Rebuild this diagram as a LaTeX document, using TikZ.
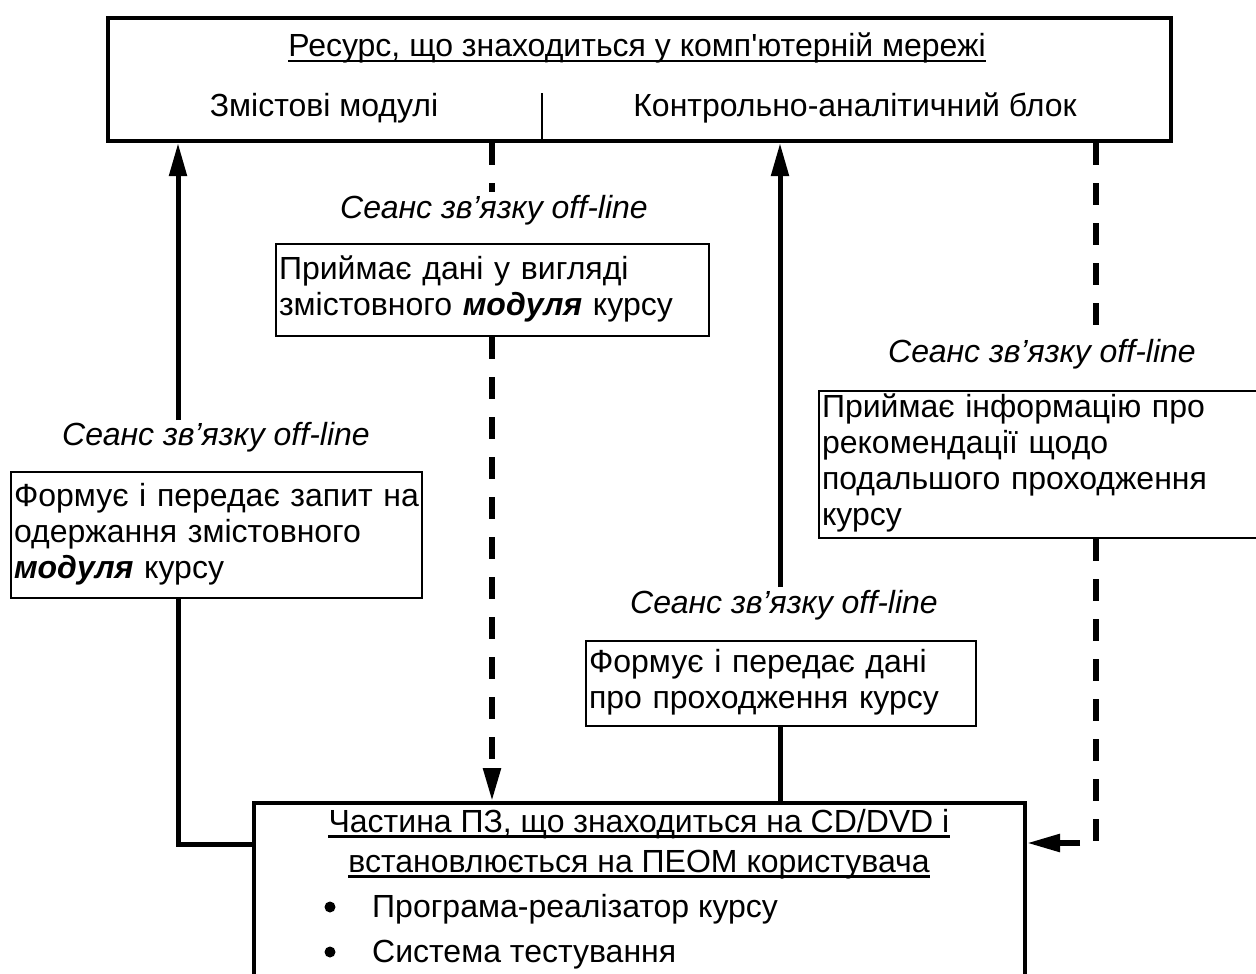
\documentclass[tikz,border=0pt]{standalone}
\usepackage{fontspec}
\setmainfont{Liberation Sans}[Ligatures=TeXOff]
\usetikzlibrary{arrows.meta}
\newcommand\fsz{\fontsize{32}{36}\selectfont}
\begin{document}
\begin{tikzpicture}[x=1pt,y=-1pt,
  every node/.style={font=\fsz},
  txt/.style={inner sep=0pt},
  lbl/.style={inner sep=0pt, font=\fsz\itshape},
  bigbox/.style={draw, line width=4pt, anchor=north west, inner sep=0pt},
  txtbox/.style={draw, line width=2pt, anchor=north west, align=left,
    inner xsep=3pt, inner ysep=0pt,
    execute at begin node=\strut, execute at end node=\strut},
  bullet/.style={ellipse, fill, inner sep=0pt, minimum width=11pt, minimum height=12pt},
  uline/.style={line width=2.2pt},
  solidln/.style={line width=5pt},
  dashln/.style={line width=5.5pt, dash pattern=on 22pt off 18pt},
  arr/.style={-{Triangle[length=33pt,width=17pt]}}
]
\path[use as bounding box] (0,0) rectangle (1256,974);
\clip (0,0) rectangle (1256,974);

% top box
\node[bigbox, minimum width=1063pt, minimum height=123pt] (top) at (106,16) {};
\node[txt, anchor=base] (res) at (637,57) {Ресурс, що знаходиться у комп'ютерній мережі};
\draw[uline] ([yshift=-4pt]res.base west) -- ([yshift=-4pt]res.base east);
\node[txt, anchor=base] (zm) at (324,117) {Змістові модулі};
\node[txt, anchor=base] (kab) at (855,117) {Контрольно-аналітичний блок};
\coordinate (dv) at (542,93);
\draw[line width=2.5pt] (dv) -- (dv |- top.south);

% bottom box
\node[bigbox, minimum width=771pt, minimum height=220pt] (bot) at (252,801) {};
\node[txt, anchor=base] (ch1) at (639,832) {Частина ПЗ, що знаходиться на CD/DVD і};
\draw[uline] ([yshift=-4.5pt]ch1.base west) -- ([yshift=-4.5pt]ch1.base east);
\node[txt, anchor=base] (ch2) at (639,872) {встановлюється на ПЕОМ користувача};
\draw[uline] ([yshift=-4.5pt]ch2.base west) -- ([yshift=-4.5pt]ch2.base east);
\node[circle, fill, inner sep=0pt, minimum size=11pt] (bu1) at (330,907) {};
\node[txt, anchor=base west] (p1) at (372,917) {Програма-реалізатор курсу};
\node[circle, fill, inner sep=0pt, minimum size=11pt] (bu2) at (330,952) {};
\node[txt, anchor=base west] (p2) at (372,962) {Система тестування};

% text boxes
\node[txtbox, text width=405pt, minimum height=126pt] (lbox) at (10,471)
  {Формує і передає запит на\\одержання змістовного\\\textbf{\textit{модуля}} курсу};
\node[txtbox, text width=427pt, minimum height=92pt] (box2) at (275,243)
  {Приймає дані у вигляді\\змістовного \textbf{\textit{модуля}} курсу};
\node[txtbox, text width=384pt, minimum height=85pt] (box4) at (585,640)
  {Формує і передає дані\\про проходження курсу};
\node[txtbox, text width=440pt, minimum height=147pt] (rbox) at (818,390)
  {Приймає інформацію про\\рекомендації щодо\\подальшого проходження\\курсу};

% labels
\node[lbl] (s1) at (216,437) {Сеанс зв’язку off-line};
\node[lbl] (s2) at (494,210) {Сеанс зв’язку off-line};
\node[lbl] (s3) at (784,605) {Сеанс зв’язку off-line};
\node[lbl] (s4) at (1042,354) {Сеанс зв’язку off-line};

% connectors
\coordinate (c1) at (178,420);
\coordinate (j1) at (178,844);
\draw[solidln, arr] (c1) -- (c1 |- top.south);
\draw[solidln] (lbox.south -| j1) -- (j1) -- (j1 -| bot.west);

\coordinate (c2) at (492,192);
\draw[dashln] (c2 |- top.south) -- (c2);
\draw[dashln, arr] (box2.south -| c2) -- (c2 |- bot.north);

\coordinate (c3) at (780,587);
\draw[solidln] (bot.north -| c3) -- (box4.south -| c3);
\draw[solidln, arr] (c3) -- (c3 |- top.south);

\coordinate (c4) at (1096,330);
\coordinate (j4) at (1096,843);
\draw[dashln] (c4 |- top.south) -- (c4);
\draw[dashln, arr] (rbox.south -| j4) -- (j4) -- (j4 -| bot.east);
\end{tikzpicture}
\end{document}
